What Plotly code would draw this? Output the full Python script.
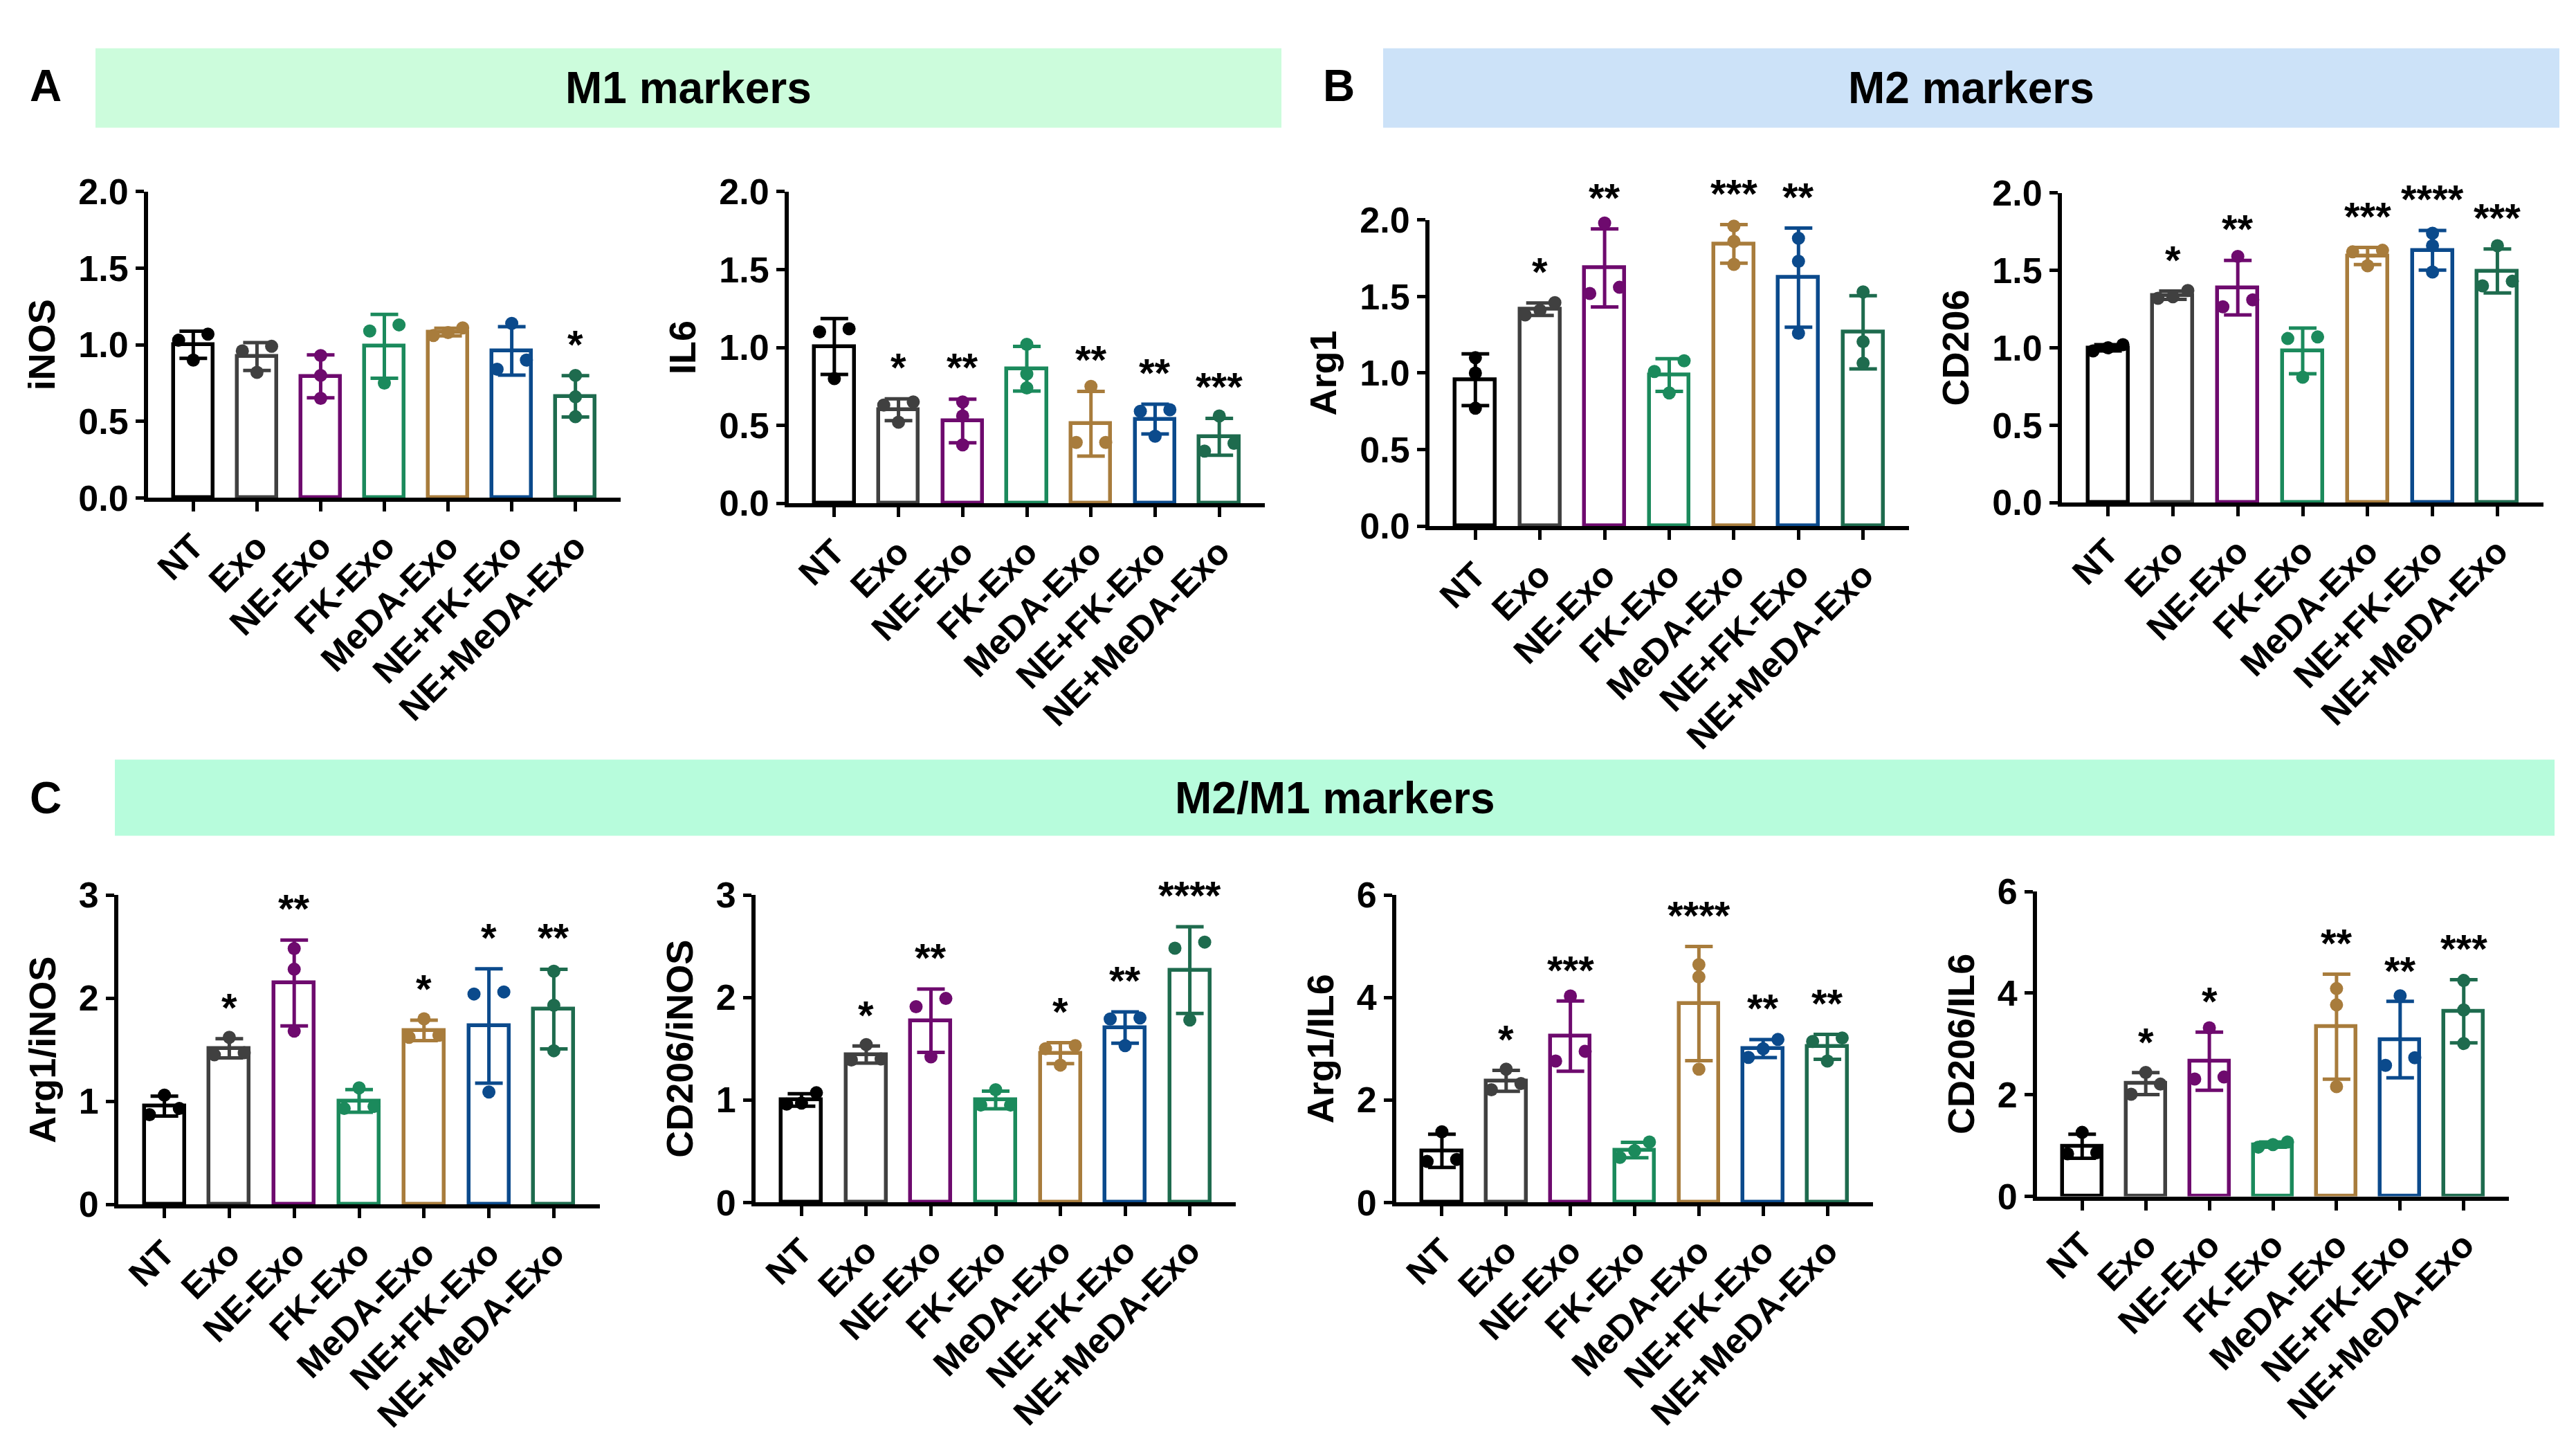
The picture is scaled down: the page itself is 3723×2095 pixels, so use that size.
import numpy as np
import plotly.graph_objects as go

# ---------------- data ----------------
groups = ["NT", "Exo", "NE-Exo", "FK-Exo", "MeDA-Exo", "NE+FK-Exo", "NE+MeDA-Exo"]
group_colors = ["#000000", "#404040", "#6E0A6E", "#1B8A5C", "#A87C3C", "#0B4A8C", "#1E6B4E"]

inos_values = [[1.03, 1.07, 0.90], [0.96, 0.99, 0.82], [0.93, 0.80, 0.65], [1.09, 1.13, 0.75],
               [1.06, 1.08, 1.11], [0.84, 0.90, 1.14], [0.80, 0.66, 0.53]]
inos_stars = ["", "", "", "", "", "", "*"]

il6_values = [[1.10, 1.12, 0.80], [0.63, 0.65, 0.52], [0.65, 0.56, 0.375], [1.02, 0.83, 0.74],
              [0.75, 0.39, 0.39], [0.59, 0.60, 0.43], [0.56, 0.335, 0.385]]
il6_stars = ["", "*", "**", "", "**", "**", "***"]

arg1_values = [[1.10, 1.00, 0.77], [1.46, 1.38, 1.41], [1.98, 1.52, 1.56], [1.01, 1.08, 0.87],
               [1.96, 1.86, 1.71], [1.88, 1.73, 1.26], [1.53, 1.205, 1.064]]
arg1_stars = ["", "*", "**", "", "***", "**", ""]

cd206_values = [[0.98, 1.00, 1.02], [1.37, 1.33, 1.32], [1.59, 1.265, 1.31], [1.06, 1.07, 0.81],
                [1.62, 1.63, 1.53], [1.74, 1.66, 1.49], [1.66, 1.40, 1.43]]
cd206_stars = ["", "*", "**", "", "***", "****", "***"]

arg1_inos_values = [[1.06, 0.93, 0.87], [1.62, 1.45, 1.47], [2.48, 2.28, 1.68], [1.13, 0.95, 0.93],
                    [1.80, 1.62, 1.64], [2.04, 2.06, 1.09], [2.26, 1.93, 1.49]]
arg1_inos_stars = ["", "*", "**", "", "*", "*", "**"]

cd206_inos_values = [[1.07, 0.97, 0.96], [1.54, 1.39, 1.40], [1.91, 1.99, 1.42], [1.10, 0.95, 0.95],
                     [1.50, 1.53, 1.34], [1.79, 1.80, 1.53], [2.48, 2.54, 1.78]]
cd206_inos_stars = ["", "*", "**", "", "*", "**", "****"]

arg1_il6_values = [[1.38, 0.80, 0.84], [2.60, 2.20, 2.32], [4.03, 2.76, 2.95], [1.18, 1.01, 0.88],
                   [4.64, 4.40, 2.60], [3.18, 3.00, 2.83], [3.14, 3.21, 2.76]]
arg1_il6_stars = ["", "*", "***", "", "****", "**", "**"]

cd206_il6_values = [[1.26, 0.86, 0.84], [2.44, 2.01, 2.21], [3.32, 2.31, 2.35], [1.07, 1.02, 0.97],
                    [4.09, 3.77, 2.16], [3.95, 2.58, 2.73], [4.25, 3.67, 3.01]]
cd206_il6_stars = ["", "*", "*", "", "**", "**", "***"]

panel_titles = ["iNOS", "IL6", "Arg1", "CD206", "Arg1/iNOS", "CD206/iNOS", "Arg1/IL6", "CD206/IL6"]
panel_ymax = [2.0, 2.0, 2.0, 2.0, 3, 3, 6, 6]
panel_dtick = [0.5, 0.5, 0.5, 0.5, 1, 1, 2, 2]
panel_fmt = [".1f", ".1f", ".1f", ".1f", "d", "d", "d", "d"]

header_texts = ["M1 markers", "M2 markers", "M2/M1 markers"]
panel_letters = ["A", "B", "C"]

panel_values = [inos_values, il6_values, arg1_values, cd206_values,
                arg1_inos_values, cd206_inos_values, arg1_il6_values, cd206_il6_values]
panel_stars = [inos_stars, il6_stars, arg1_stars, cd206_stars,
               arg1_inos_stars, cd206_inos_stars, arg1_il6_stars, cd206_il6_stars]

# ---------------- layout geometry (pixels of a 3723 x 2095 canvas) ----------------
W, H = 3723, 2095
panel_px = [  # x0, x1, y_top, y_bottom
    (214, 897, 255, 710), (1140, 1828, 255, 718), (2066, 2759, 297, 752), (2980, 3676, 257, 717),
    (171, 867, 1300, 1760), (1092, 1786, 1300, 1757), (2018, 2707, 1300, 1757), (2944, 3626, 1295, 1748),
]
header_px = [(138, 1852, 42, 160, "#CCFCDC"), (1999, 3699, 42, 160, "#CCE2F8"), (166, 3692, 1099, 1212, "#B7FCDC")]
letter_px = [(66, 98), (1935, 98), (66, 1156)]

FONT = "Liberation Sans, Arial, sans-serif"


def fx(px):
    return px / W


def fy(py):
    return 1 - py / H


def jitter(vals, thr, d=0.23):
    vals = np.asarray(vals, dtype=float)
    order = np.argsort(vals, kind="stable")
    offs = np.zeros(len(vals))
    clusters, cur = [], [order[0]]
    for a, b in zip(order[:-1], order[1:]):
        if vals[b] - vals[a] < thr:
            cur.append(b)
        else:
            clusters.append(cur)
            cur = [b]
    clusters.append(cur)
    for c in clusters:
        n = len(c)
        for k, idx in enumerate(c):
            if n == 1:
                offs[idx] = 0
            elif n == 2:
                offs[idx] = -d if k == 0 else d
            else:
                offs[idx] = (k - (n - 1) / 2) * d
    return offs


fig = go.Figure()
annotations = []
shapes = []
layout_axes = {}

for p in range(8):
    ax = "" if p == 0 else str(p + 1)
    xref, yref = "x" + ax, "y" + ax
    vals_all = panel_values[p]
    ymax = panel_ymax[p]
    for g, vals in enumerate(vals_all):
        v = np.array(vals, dtype=float)
        mean = v.mean()
        sd = v.std(ddof=1)
        col = group_colors[g]
        fig.add_trace(go.Bar(
            x=[g], y=[mean], width=0.62, xaxis=xref, yaxis=yref,
            marker=dict(color="white", line=dict(color=col, width=5.5)),
            error_y=dict(type="data", array=[sd], visible=True, color=col, thickness=5, width=20),
            showlegend=False, hoverinfo="skip", cliponaxis=False,
        ))
        offs = jitter(v, 0.0375 * ymax)
        fig.add_trace(go.Scatter(
            x=g + offs, y=v, mode="markers", xaxis=xref, yaxis=yref,
            marker=dict(color=col, size=19, line=dict(width=0)),
            showlegend=False, hoverinfo="skip", cliponaxis=False,
        ))
        star = panel_stars[p][g]
        if star:
            annotations.append(dict(
                x=g, y=(mean + sd + 0.115 * ymax) / ymax, xref=xref, yref=yref + " domain", text=star,
                showarrow=False, yanchor="middle", yshift=-6,
                font=dict(size=58, color="black", family=FONT),
            ))
    x0, x1, yt, yb = panel_px[p]
    layout_axes["xaxis" + ax] = dict(
        domain=[fx(x0), fx(x1)], anchor=yref, range=[-0.71, 6.71],
        tickmode="array", tickvals=list(range(7)), ticktext=groups, tickangle=-45,
        showline=True, linecolor="black", linewidth=6, ticks="outside", ticklen=14,
        tickwidth=5, tickcolor="black", showgrid=False, zeroline=False,
        tickfont=dict(size=51, color="black", family=FONT, weight="bold"),
        fixedrange=True,
    )
    layout_axes["yaxis" + ax] = dict(
        domain=[fy(yb), fy(yt)], anchor=xref, range=[0, ymax],
        tick0=0, dtick=panel_dtick[p], tickformat=panel_fmt[p],
        showline=True, linecolor="black", linewidth=6, ticks="outside", ticklen=12,
        tickwidth=5, tickcolor="black", showgrid=False, zeroline=False,
        tickfont=dict(size=52, color="black", family=FONT, weight="bold"),
        title=dict(text=panel_titles[p], standoff=18,
                   font=dict(size=54, color="black", family=FONT, weight="bold")),
        fixedrange=True,
    )

for (x0, x1, y0, y1, col), txt in zip(header_px, header_texts):
    shapes.append(dict(type="rect", xref="paper", yref="paper", x0=fx(x0), x1=fx(x1),
                       y0=fy(y1), y1=fy(y0), fillcolor=col, line=dict(width=0), layer="below"))
    annotations.append(dict(x=fx((x0 + x1) / 2), y=fy((y0 + y1) / 2), xref="paper", yref="paper",
                            text=txt, showarrow=False, xanchor="center", yanchor="middle",
                            font=dict(size=64, color="black", family=FONT, weight="bold")))

for (lx, ly), txt in zip(letter_px, panel_letters):
    annotations.append(dict(x=fx(lx), y=fy(ly), xref="paper", yref="paper", text=txt,
                            showarrow=False, xanchor="center", yanchor="middle",
                            font=dict(size=64, color="black", family=FONT, weight="bold")))

fig.update_layout(
    width=W, height=H, autosize=False,
    margin=dict(l=0, r=0, t=0, b=0, pad=0),
    paper_bgcolor="white", plot_bgcolor="white",
    font=dict(family=FONT, color="black", weight="bold"),
    bargap=0, barmode="overlay",
    annotations=annotations, shapes=shapes,
    **layout_axes,
)

fig.write_html("out.html", config={"displayModeBar": False},
               post_script="document.body.style.margin='0px';document.body.style.overflow='hidden';")
